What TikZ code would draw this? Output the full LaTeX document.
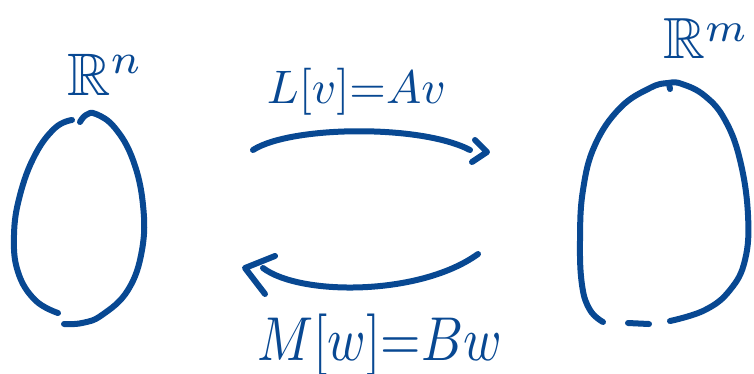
\documentclass[tikz,border=0pt]{standalone}
\usepackage{amssymb}
\definecolor{ink}{RGB}{8,72,146}
\begin{document}
\begin{tikzpicture}[x=1pt,y=-1pt,
  pen/.style={draw=ink,line width=6pt,line cap=round,line join=round},
  lbl/.style={text=ink,inner sep=0pt}]
\useasboundingbox (0,0) rectangle (754,373);
% left set R^n
\draw[pen] plot[smooth,tension=0.7] coordinates {(72,120) (55,128) (35,155) (20,195) (14,235) (18,272) (35,300) (58,313)};
\draw[pen] plot[smooth,tension=0.7] coordinates {(80,122) (86,115) (96,114) (115,128) (133,160) (143,205) (142,250) (128,290) (102,315) (82,323) (64,324)};
% right set R^m
\draw[pen] plot[smooth,tension=0.7] coordinates {(603,322) (590,310) (582,285) (580,240) (583,190) (595,145) (620,108) (650,88) (668,83) (682,84) (705,96) (725,120) (740,160) (748,215) (745,260) (730,290) (705,310) (670,321)};
\draw[pen] (669,84) -- (670,89);
\draw[pen] (628,323) -- (649,324);
% labels
\node[lbl,anchor=base west,scale=6] (Rn) at (66,95) {$\mathbb{R}^n$};
\node[lbl,anchor=base west,scale=5.8] (Rm) at (662,58) {$\mathbb{R}^{\raisebox{-0.2ex}{$\scriptstyle m$}}$};
\node[lbl,anchor=base west,scale=4.7] (Lab) at (266,103) {$L[v]{=}Av$};
\node[lbl,anchor=base west,xscale=5.2,yscale=6.2] (Mab) at (256,360) {$M[w]{=}Bw$};
% top arrow
\coordinate (t1) at (253,150);
\coordinate (t2) at (470,150);
\draw[pen] (t1) .. controls (290,126) and (420,124) .. (t2);
\draw[pen] (475,140) -- (487,152) -- (472,162);
% bottom arrow
\coordinate (b1) at (478,254);
\coordinate (b2) at (263,268);
\draw[pen] (b1) .. controls (420,296) and (300,296) .. (b2);
\draw[pen] (275,256) -- (245,268) -- (265,294);
\end{tikzpicture}
\end{document}
